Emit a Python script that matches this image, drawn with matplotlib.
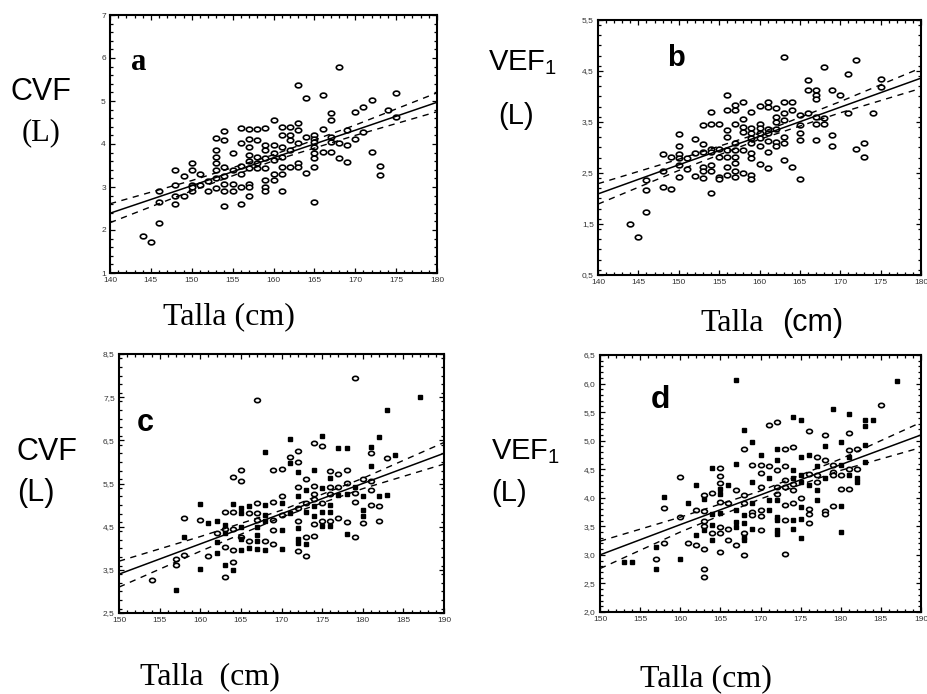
import matplotlib
matplotlib.use("Agg")
import matplotlib.pyplot as plt
from matplotlib.ticker import MultipleLocator, FixedLocator, FuncFormatter
from matplotlib.path import Path
from matplotlib.transforms import Affine2D

W, H = 927, 694

# ---- panel a : CVF vs talla (cm)
a_pts = [(144, 1.85), (145, 1.72), (146, 2.17), (146, 2.66), (146, 2.9),
         (148, 3.4), (148, 3.05), (148, 2.78), (148, 2.6), (149, 3.25), (149, 2.78),
         (150, 3.55), (150, 3.4), (150, 3.05), (150, 2.9), (150, 3.0),
         (151, 3.3), (151, 3.05), (152, 3.15), (152, 2.9),
         (153, 4.13), (153, 3.86), (153, 3.7), (153, 3.55), (153, 3.4), (153, 3.2), (153, 2.97),
         (154, 4.3), (154, 4.1), (154, 3.47), (154, 3.25), (154, 3.08), (154, 2.9), (154, 2.55),
         (155, 3.78), (155, 3.4), (155, 3.08), (155, 2.9),
         (156, 4.38), (156, 4.02), (156, 3.5), (156, 3.3), (156, 3.0), (156, 2.6),
         (157, 4.35), (157, 4.12), (157, 3.93), (157, 3.75), (157, 3.6), (157, 3.45), (157, 3.08), (157, 3.0), (157, 2.78),
         (158, 4.35), (158, 4.1), (158, 3.7), (158, 3.55), (158, 3.45),
         (159, 4.38), (159, 3.97), (159, 3.86), (159, 3.67), (159, 3.45), (159, 3.17), (159, 3.0), (159, 2.9),
         (160, 4.56), (160, 3.97), (160, 3.78), (160, 3.63), (160, 3.3), (160, 3.17),
         (161, 4.4), (161, 4.2), (161, 3.93), (161, 3.7), (161, 3.47), (161, 3.3), (161, 2.9),
         (162, 4.4), (162, 4.2), (162, 4.1), (162, 3.86), (162, 3.47),
         (163, 5.37), (163, 4.48), (163, 4.32), (163, 4.02), (163, 3.55), (163, 3.47),
         (164, 5.06), (164, 4.17), (164, 3.32),
         (165, 4.2), (165, 4.12), (165, 4.05), (165, 3.93), (165, 3.78), (165, 3.67), (165, 3.47), (165, 2.65),
         (166, 5.14), (166, 4.35), (166, 3.82),
         (167, 4.71), (167, 4.56), (167, 4.17), (167, 4.05), (167, 3.82),
         (168, 5.8), (168, 4.02), (168, 3.67), (169, 4.32), (169, 3.97), (169, 3.57),
         (170, 4.75), (170, 4.12), (171, 4.86), (171, 4.28), (172, 5.03), (172, 3.82),
         (173, 3.5), (173, 3.27), (174, 4.8), (175, 5.18), (175, 4.62)]
a_fit_x = [140, 150, 160, 170, 180]
a_fit = [2.39, 3.03, 3.68, 4.32, 4.97]
a_hi = [2.61, 3.15, 3.75, 4.44, 5.19]
a_lo = [2.17, 2.91, 3.61, 4.20, 4.75]
a_yticks = [1, 2, 3, 4, 5, 6, 7]

# ---- panel b : VEF1 vs talla (cm)
b_pts = [(144, 1.5), (145, 1.25), (146, 2.36), (146, 2.17), (146, 1.74),
         (148, 2.87), (148, 2.23), (148, 2.53), (149, 2.82), (149, 2.18),
         (150, 3.26), (150, 3.02), (150, 2.87), (150, 2.79), (150, 2.66), (150, 2.43),
         (151, 2.79), (151, 2.57), (152, 3.16), (152, 2.9), (152, 2.45),
         (153, 3.45), (153, 3.07), (153, 2.92), (153, 2.62), (153, 2.53), (153, 2.4),
         (154, 3.7), (154, 3.47), (154, 2.98), (154, 2.92), (154, 2.66), (154, 2.53), (154, 2.1),
         (155, 3.47), (155, 2.98), (155, 2.82), (155, 2.43), (155, 2.38),
         (156, 4.02), (156, 3.74), (156, 3.34), (156, 3.21), (156, 2.95), (156, 2.82), (156, 2.62), (156, 2.46),
         (157, 3.83), (157, 3.74), (157, 3.47), (157, 3.08), (157, 2.95), (157, 2.82), (157, 2.69), (157, 2.53), (157, 2.43),
         (158, 3.9), (158, 3.55), (158, 3.41), (158, 3.31), (158, 2.96), (158, 2.5),
         (159, 3.7), (159, 3.38), (159, 3.28), (159, 3.18), (159, 3.08), (159, 2.89), (159, 2.79), (159, 2.46), (159, 2.38),
         (160, 3.81), (160, 3.47), (160, 3.38), (160, 3.28), (160, 3.18), (160, 3.02), (160, 2.68),
         (161, 3.9), (161, 3.79), (161, 3.36), (161, 3.28), (161, 3.13), (161, 2.92), (161, 2.59),
         (162, 3.77), (162, 3.6), (162, 3.5), (162, 3.36), (162, 3.1), (162, 3.02),
         (163, 4.78), (163, 3.9), (163, 3.67), (163, 3.54), (163, 3.21), (163, 3.08), (163, 2.75),
         (164, 3.9), (164, 3.74), (164, 2.62),
         (165, 3.64), (165, 3.44), (165, 3.28), (165, 3.15), (165, 2.38),
         (166, 4.32), (166, 4.13), (166, 3.67),
         (167, 4.13), (167, 4.03), (167, 3.96), (167, 3.6), (167, 3.47), (167, 3.15),
         (168, 4.58), (168, 3.57), (168, 3.47), (169, 4.13), (169, 3.24), (169, 3.03),
         (170, 4.03), (171, 4.45), (171, 3.68), (172, 4.72), (172, 2.98),
         (173, 3.08), (173, 2.82), (174, 3.68), (175, 4.34), (175, 4.19)]
b_fit_x = [140, 150, 160, 170, 180]
b_fit = [2.09, 2.66, 3.22, 3.79, 4.36]
b_hi = [2.29, 2.77, 3.28, 3.90, 4.56]
b_lo = [1.89, 2.55, 3.16, 3.68, 4.16]
b_yticks = [0.5, 1.5, 2.5, 3.5, 4.5, 5.5]

# ---- panel c : CVF vs talla, two groups (circles / squares)
c_circ = [(154, 3.26), (157, 3.74), (157, 3.62), (158, 4.7), (158, 3.85), (160, 4.66), (161, 3.81),
          (162, 4.35), (163, 4.83), (163, 4.44), (163, 4.04), (163, 3.33),
          (164, 5.66), (164, 4.83), (164, 4.44), (164, 3.95), (164, 3.67),
          (165, 5.82), (165, 5.55), (165, 4.27), (166, 4.81), (166, 4.16),
          (167, 7.44), (167, 5.05), (167, 4.81), (167, 4.66), (168, 4.16),
          (169, 5.82), (169, 5.08), (169, 4.66), (169, 4.43), (169, 4.1),
          (170, 5.83), (170, 5.2), (170, 4.78), (171, 6.11),
          (172, 6.26), (172, 6.0), (172, 5.43), (172, 4.93), (172, 4.64), (172, 3.93),
          (173, 5.6), (173, 5.05), (173, 4.27), (173, 3.83),
          (174, 6.43), (174, 5.45), (174, 5.26), (174, 5.14), (174, 4.56), (174, 4.29),
          (175, 6.37), (175, 5.05), (175, 4.62), (176, 5.8), (176, 5.43), (176, 5.26), (176, 4.62),
          (177, 5.72), (177, 5.43), (177, 4.7), (178, 5.82), (178, 5.51), (178, 4.6),
          (179, 7.94), (179, 5.29), (179, 5.08), (179, 4.27), (180, 5.6), (180, 4.58),
          (181, 6.2), (181, 5.55), (181, 5.35), (181, 5.0), (182, 4.98), (182, 4.62), (183, 6.1)]
c_sq = [(157, 3.04), (158, 4.26), (160, 5.03), (160, 3.52), (161, 4.58),
        (162, 4.62), (162, 4.14), (162, 3.89), (163, 4.54), (163, 4.35), (163, 3.62),
        (164, 5.03), (164, 3.5), (165, 4.93), (165, 4.81), (165, 4.5), (165, 4.21), (165, 3.97),
        (166, 4.98), (166, 4.0), (167, 4.5), (167, 4.31), (167, 4.16), (167, 3.98),
        (168, 6.22), (168, 5.0), (168, 4.78), (168, 4.62), (168, 3.95),
        (170, 5.05), (170, 4.43), (170, 3.98), (171, 6.53), (171, 5.97), (171, 4.81),
        (172, 5.76), (172, 5.2), (172, 4.48), (172, 4.21), (172, 4.12),
        (173, 5.35), (173, 4.85), (173, 4.1), (174, 5.82), (174, 4.97), (174, 4.74),
        (175, 6.59), (175, 5.39), (175, 4.85), (175, 4.52), (176, 5.63), (176, 5.0), (176, 4.83), (176, 4.52),
        (177, 6.32), (177, 5.24), (178, 6.32), (178, 5.26), (178, 4.34), (179, 5.43),
        (180, 5.22), (180, 4.88), (180, 4.74), (181, 6.35), (181, 5.9), (182, 6.58), (182, 5.2),
        (183, 7.2), (183, 5.23), (184, 6.16), (187, 7.5)]
c_fit_x = [150, 160, 170, 180, 190]
c_fit = [3.4, 4.1, 4.8, 5.5, 6.2]
c_hi = [3.70, 4.27, 4.88, 5.62, 6.45]
c_lo = [3.10, 3.93, 4.72, 5.38, 5.95]
c_yticks = [2.5, 3.5, 4.5, 5.5, 6.5, 7.5, 8.5]

# ---- panel d : VEF1 vs talla, two groups
d_circ = [(157, 2.93), (158, 3.2), (158, 3.82), (160, 4.37), (160, 3.67), (161, 3.21),
          (162, 3.78), (162, 3.18), (163, 4.05), (163, 3.77), (163, 3.6), (163, 3.5), (163, 3.11), (163, 2.76), (163, 2.61),
          (164, 4.08), (164, 3.38), (165, 4.52), (165, 4.38), (165, 4.26), (165, 3.93), (165, 3.49), (165, 3.38), (165, 3.05),
          (166, 3.91), (166, 3.46), (166, 3.26), (167, 4.13), (167, 3.18),
          (168, 4.86), (168, 4.05), (168, 3.9), (168, 3.38), (168, 3.0), (169, 4.57), (169, 3.75), (169, 3.69),
          (170, 4.57), (170, 4.43), (170, 4.19), (170, 3.78), (170, 3.68), (170, 3.43), (171, 4.55), (171, 5.27),
          (172, 5.33), (172, 4.48), (172, 4.19), (172, 4.07),
          (173, 4.86), (173, 4.55), (173, 4.31), (173, 4.19), (173, 3.87), (173, 3.61), (173, 3.01),
          (174, 4.89), (174, 4.25), (174, 4.13), (174, 3.91), (175, 3.99),
          (176, 5.17), (176, 4.42), (176, 3.81), (176, 3.72), (176, 3.56), (177, 4.72), (177, 4.4), (177, 4.28),
          (178, 5.1), (178, 4.66), (178, 3.76), (178, 3.72), (179, 4.57), (179, 4.45), (179, 4.4), (179, 3.85),
          (180, 4.4), (180, 4.16), (181, 5.13), (181, 4.83), (181, 4.51), (181, 4.16), (182, 4.86), (182, 4.51), (185, 5.62)]
d_sq = [(153, 2.88), (154, 2.88), (157, 2.76), (157, 3.14), (158, 4.02), (160, 2.92), (161, 3.9),
        (162, 4.22), (162, 3.34), (163, 3.97), (163, 3.43), (164, 4.52), (164, 3.71), (164, 3.52), (164, 3.26),
        (165, 4.16), (165, 4.07), (165, 3.74), (166, 4.22), (167, 6.06), (167, 4.6), (167, 3.78), (167, 3.58), (167, 3.49),
        (168, 5.18), (168, 3.69), (168, 3.55), (168, 3.31), (168, 3.26), (169, 4.98), (169, 4.28), (169, 3.9), (169, 3.46),
        (170, 4.75), (171, 4.34), (171, 3.96), (171, 3.78),
        (172, 4.86), (172, 4.66), (172, 3.96), (172, 3.67), (172, 3.61), (172, 3.43), (172, 3.37),
        (174, 5.41), (174, 4.48), (174, 4.34), (174, 3.61), (174, 3.46),
        (175, 5.36), (175, 4.72), (175, 4.4), (175, 4.28), (175, 3.84), (175, 3.62), (175, 3.29),
        (176, 4.75), (176, 4.22), (177, 4.55), (177, 4.13), (177, 3.96), (178, 4.9), (178, 4.34), (179, 5.56),
        (180, 4.98), (180, 4.57), (180, 3.85), (180, 3.4), (181, 5.47), (181, 4.72), (181, 4.4),
        (182, 4.34), (182, 4.28), (183, 5.36), (183, 5.26), (183, 4.92), (183, 4.63), (184, 5.36), (187, 6.05)]
d_fit_x = [150, 160, 170, 180, 190]
d_fit = [3.0, 3.53, 4.05, 4.58, 5.1]
d_hi = [3.24, 3.66, 4.12, 4.68, 5.32]
d_lo = [2.76, 3.40, 3.98, 4.48, 4.88]
d_yticks = [2.0, 2.5, 3.0, 3.5, 4.0, 4.5, 5.0, 5.5, 6.0, 6.5]

SERIF = "Liberation Serif"
SANS = "Liberation Sans"
plt.rcParams["mathtext.fontset"] = "custom"
plt.rcParams["mathtext.rm"] = SANS

# flattened ellipse marker like the scanned "o"
oval = Path.unit_circle().transformed(Affine2D().scale(1.35, 1.0))

fig = plt.figure(figsize=(W / 100, H / 100), dpi=100)


def px_axes(l, t, r, b):
    return fig.add_axes([l / W, 1 - b / H, (r - l) / W, (b - t) / H])


def ftext(x, y, s, **kw):
    fig.text(x / W, 1 - y / H, s, **kw)


def panel(ax, xlim, ylim, yticks, ymin, fmt, fit_x, fit, hi, lo, circ, sq=None, ms=4.6):
    ax.plot([p[0] for p in circ], [p[1] for p in circ], linestyle="none", marker=oval,
            ms=ms, mfc="white", mec="black", mew=1.2, zorder=3)
    if sq:
        ax.plot([p[0] for p in sq], [p[1] for p in sq], linestyle="none", marker="s",
                ms=3.0, mfc="black", mec="black", zorder=3)
    ax.plot(fit_x, fit, color="black", lw=1.1, zorder=4)
    for band in (hi, lo):
        ax.plot(fit_x, band, color="black", lw=1.0, dashes=(4.5, 4), zorder=4)
    ax.set_xlim(*xlim)
    ax.set_ylim(*ylim)
    ax.xaxis.set_major_locator(MultipleLocator(5))
    ax.xaxis.set_minor_locator(MultipleLocator(1))
    ax.yaxis.set_major_locator(FixedLocator(yticks))
    ax.yaxis.set_minor_locator(MultipleLocator(ymin))
    ax.yaxis.set_major_formatter(FuncFormatter(fmt))
    ax.tick_params(which="both", direction="in", top=True, right=True, labelsize=6,
                   labelcolor="#333333", pad=3, width=0.9)
    ax.tick_params(which="major", length=3.5)
    ax.tick_params(which="minor", length=2)
    for lab in ax.get_xticklabels() + ax.get_yticklabels():
        lab.set_fontfamily(SANS)
    for sp in ax.spines.values():
        sp.set_linewidth(1.5)


int_fmt = lambda v, p: f"{v:.0f}"
com_fmt = lambda v, p: f"{v:.1f}".replace(".", ",")

ax_a = px_axes(110, 15, 437, 273)
panel(ax_a, (140, 180), (1, 7), a_yticks, 0.2, int_fmt, a_fit_x, a_fit, a_hi, a_lo, a_pts)
ax_b = px_axes(598, 20, 921, 275)
panel(ax_b, (140, 180), (0.5, 5.5), b_yticks, 0.2, com_fmt, b_fit_x, b_fit, b_hi, b_lo, b_pts)
ax_c = px_axes(119, 354, 444, 613)
panel(ax_c, (150, 190), (2.5, 8.5), c_yticks, 0.2, com_fmt, c_fit_x, c_fit, c_hi, c_lo,
      c_circ, c_sq, ms=4.2)
ax_d = px_axes(600, 355, 921, 612)
panel(ax_d, (150, 190), (2.0, 6.5), d_yticks, 0.1, com_fmt, d_fit_x, d_fit, d_hi, d_lo,
      d_circ, d_sq, ms=4.2)

# panel letters
ftext(131, 70, "a", family=SERIF, weight="bold", fontsize=22)
ftext(667, 66, "b", family=SANS, weight="bold", fontsize=21)
ftext(137, 431, "c", family=SANS, weight="bold", fontsize=22)
ftext(651, 408, "d", family=SANS, weight="bold", fontsize=23)

# y-axis titles
ftext(10, 100, "CVF", family=SANS, fontsize=22)
ftext(22, 140, "(L)", family=SERIF, fontsize=22)
ftext(488, 70, "VEF$_1$", family=SANS, fontsize=21)
ftext(498, 124, "(L)", family=SANS, fontsize=21)
ftext(17, 460, "CVF", family=SANS, fontsize=22)
ftext(17, 501, "(L)", family=SANS, fontsize=22)
ftext(491, 459, "VEF$_1$", family=SANS, fontsize=21)
ftext(491, 501, "(L)", family=SANS, fontsize=21)

# x-axis titles
ftext(163, 324, "Talla (cm)", family=SERIF, fontsize=23)
ftext(700, 331, "Talla", family=SERIF, fontsize=23)
ftext(782, 331, "(cm)", family=SANS, fontsize=22)
ftext(140, 684, "Talla  (cm)", family=SERIF, fontsize=23)
ftext(640, 686, "Talla (cm)", family=SERIF, fontsize=23)

fig.savefig("out.png", dpi=100)
